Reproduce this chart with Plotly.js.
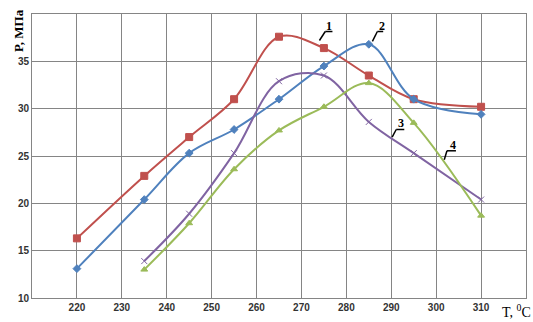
<!DOCTYPE html>
<html><head><meta charset="utf-8">
<script src="https://cdn.plot.ly/plotly-3.0.1.min.js"></script>
<style>html,body{margin:0;padding:0;background:#fff}#c{width:533px;height:322px}</style>
</head><body><div id="c"></div>
<script>
var t1 = [220, 235, 245, 255, 265, 275, 285, 295, 310];
var p1 = [16.3, 22.9, 27.0, 31.0, 37.6, 36.4, 33.5, 31.0, 30.2];
var t2 = [220, 235, 245, 255, 265, 275, 285, 295, 310];
var p2 = [13.1, 20.4, 25.3, 27.8, 31.0, 34.5, 36.8, 31.0, 29.4];
var t3 = [235, 245, 255, 265, 275, 285, 295, 310];
var p3 = [13.9, 18.9, 25.3, 32.9, 33.5, 28.6, 25.3, 20.4];
var t4 = [235, 245, 255, 265, 275, 285, 295, 310];
var p4 = [13.0, 17.9, 23.6, 27.7, 30.2, 32.7, 28.5, 18.7];
var xTicks = [220, 230, 240, 250, 260, 270, 280, 290, 300, 310];
var yTicks = [10, 15, 20, 25, 30, 35];
var curveLabels = ["1", "2", "3", "4"];
// leader lines (start, knee, underline end) and label centres, in data units
var leadX0 = [274.0, 285.8, 290.2, 301.8];
var leadY0 = [37.2, 37.1, 27.0, 24.6];
var leadX1 = [275.3, 286.9, 291.1, 302.4];
var leadY1 = [38.15, 38.15, 27.8, 25.55];
var leadX2 = [276.9, 288.2, 292.9, 304.4];
var labelX = [276.1, 287.9, 292.2, 303.7];

function tr(x, y, color, sym, size, lcol) {
  return {x: x, y: y, type: 'scatter', mode: 'lines+markers',
    line: {color: color, width: 2, shape: 'spline', smoothing: 1},
    marker: {symbol: sym, size: size, color: color, line: {color: lcol || color, width: 1}},
    hoverinfo: 'none'};
}
var data = [
  tr(t1, p1, '#C0504D', 'square', 7),
  tr(t2, p2, '#4F81BD', 'diamond', 6),
  tr(t3, p3, '#8064A2', 'x-thin-open', 6, '#B7A6D0'),
  tr(t4, p4, '#9BBB59', 'triangle-up', 6)
];
var shapes = [], ann = [];
for (var i = 0; i < 4; i++) {
  shapes.push({type: 'line', xref: 'x', yref: 'y', x0: leadX0[i], y0: leadY0[i], x1: leadX1[i], y1: leadY1[i], line: {color: '#000', width: 1.5}});
  shapes.push({type: 'line', xref: 'x', yref: 'y', x0: leadX1[i], y0: leadY1[i], x1: leadX2[i], y1: leadY1[i], line: {color: '#000', width: 1.5}});
  ann.push({x: labelX[i], y: leadY1[i], xref: 'x', yref: 'y', text: '<b>' + curveLabels[i] + '</b>', showarrow: false,
    xanchor: 'center', yanchor: 'bottom', yshift: -2, borderpad: 0,
    font: {family: 'Liberation Serif', size: 12, color: '#000'}});
}
ann.push({xref: 'paper', yref: 'paper', x: 1.012, y: -0.046, xanchor: 'right', yanchor: 'middle', borderpad: 0,
  text: 'T, <sup>0</sup>C', showarrow: false, font: {family: 'Liberation Serif', size: 14, color: '#000'}});
ann.push({xref: 'paper', yref: 'paper', x: -0.008, y: 1.025, xanchor: 'right', yanchor: 'top', textangle: -90,
  text: '<b>P, МПа</b>', showarrow: false, font: {family: 'Liberation Serif', size: 13, color: '#000'}});
var tf = {family: 'Liberation Sans', size: 10, color: '#333', weight: 'bold'};
var layout = {
  width: 533, height: 322,
  margin: {l: 32, r: 7, t: 14, b: 24},
  paper_bgcolor: '#fff', plot_bgcolor: '#fff',
  showlegend: false,
  xaxis: {range: [210, 320], tickvals: xTicks, ticktext: xTicks.map(String), showgrid: true,
    gridcolor: '#858585', gridwidth: 1, showline: true, linecolor: '#858585', mirror: true, zeroline: false,
    ticks: '', tickfont: tf},
  yaxis: {range: [10, 40], tickvals: yTicks, showgrid: true, gridcolor: '#858585', gridwidth: 1,
    showline: true, linecolor: '#858585', mirror: true, zeroline: false, ticks: '',
    tickfont: tf},
  shapes: shapes, annotations: ann
};
Plotly.newPlot('c', data, layout, {staticPlot: true});
</script></body></html>
